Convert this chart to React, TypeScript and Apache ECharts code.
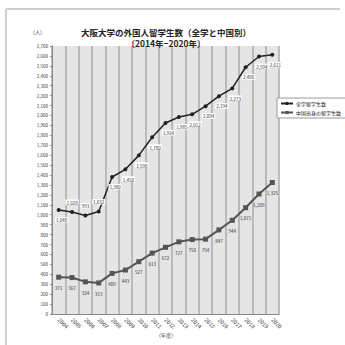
import React, { useEffect, useRef } from "react";
import * as echarts from "echarts";

const years = ["2004","2005","2006","2007","2008","2009","2010","2011","2012","2013","2014","2015","2016","2017","2018","2019","2020"];
const allStudents = [1048, 1028, 993, 1032, 1380, 1458, 1598, 1780, 1924, 1985, 2012, 2094, 2194, 2273, 2486, 2594, 2611];
const chinaStudents = [371, 367, 324, 313, 409, 443, 527, 613, 672, 727, 750, 754, 847, 944, 1071, 1209, 1325];
const seriesNames = ["全学留学生数", "中国出身の留学生数"];
const titleLines = ["大阪大学の外国人留学生数（全学と中国別）", "〔2014年−2020年〕"];

const FONT = "'Noto Sans CJK JP', 'Noto Sans', sans-serif";
const fmt = (v: number) => v.toLocaleString("en-US");

export default function App() {
  const ref = useRef<HTMLDivElement>(null);
  useEffect(() => {
    if (!ref.current) return;
    const chart = echarts.init(ref.current, undefined, { renderer: "svg" });
    const topIdx = new Set([1, 2, 3]);
    chart.setOption({
      animation: false,
      backgroundColor: "#fff",
      textStyle: { fontFamily: FONT },
      graphic: [
        { type: "line", shape: { x1: 6, y1: 9, x2: 340, y2: 9 }, style: { stroke: "#cfcfcf", lineWidth: 2 } },
        { type: "line", shape: { x1: 6, y1: 9, x2: 6, y2: 345 }, style: { stroke: "#cfcfcf", lineWidth: 2 } },
        { type: "text", left: 30, top: 29, style: { text: "（人）", fontSize: 5, fill: "#333", fontFamily: FONT } },
        { type: "text", left: 156, top: 332, style: { text: "（年度）", fontSize: 5, fill: "#333", fontFamily: FONT } },
      ],
      title: {
        text: titleLines[0] + "\n" + titleLines[1],
        left: 161,
        top: 21,
        textAlign: "center",
        textStyle: { fontSize: 8.5, fontWeight: "bold", color: "#222", fontFamily: FONT, lineHeight: 11 },
      },
      legend: {
        orient: "vertical",
        left: 277,
        top: 98,
        itemWidth: 12,
        itemHeight: 4,
        itemGap: 4,
        padding: [3, 30, 3, 3],
        borderColor: "#999",
        borderWidth: 1,
        backgroundColor: "#fff",
        textStyle: { fontSize: 5, color: "#222", fontFamily: FONT, padding: [0, 0, 0, -2] },
        data: seriesNames,
      },
      grid: { left: 52, right: 66, top: 46, bottom: 31, show: true, backgroundColor: "#e5e5e5", borderWidth: 0 },
      xAxis: {
        type: "category",
        data: years,
        boundaryGap: true,
        axisLine: { show: true, lineStyle: { color: "#888", width: 1 } },
        axisTick: { show: false },
        splitLine: { show: true, interval: 0, lineStyle: { color: "#aaa", width: 1.5 } },
        axisLabel: { rotate: -45, fontSize: 5.5, color: "#333", margin: 5, interval: 0, fontFamily: FONT },
      },
      yAxis: {
        type: "value",
        min: 0,
        max: 2700,
        interval: 100,
        axisLine: { show: true, lineStyle: { color: "#888", width: 1 } },
        axisTick: { show: true, length: 2, lineStyle: { color: "#888" } },
        splitLine: { show: false },
        axisLabel: { fontSize: 4.5, color: "#333", margin: 4, formatter: (v: number) => fmt(v), fontFamily: FONT },
      },
      series: [
        {
          name: seriesNames[0],
          type: "line",
          data: allStudents.map((v, i) => ({
            value: v,
            label: topIdx.has(i) ? { position: "top", offset: [0, 0] } : undefined,
          })),
          symbol: "circle",
          symbolSize: 4,
          lineStyle: { color: "#222", width: 1.5 },
          itemStyle: { color: "#222" },
          label: {
            show: true,
            position: "bottom",
            offset: [3, 0],
            fontSize: 4.5,
            color: "#333",
            backgroundColor: "#fff",
            padding: [1, 1, 0, 1],
            formatter: (p: any) => fmt(p.value),
            fontFamily: FONT,
          },
          z: 3,
        },
        {
          name: seriesNames[1],
          type: "line",
          data: chinaStudents,
          symbol: "rect",
          symbolSize: 5,
          lineStyle: { color: "#555", width: 2 },
          itemStyle: { color: "#555" },
          label: {
            show: true,
            position: "bottom",
            offset: [0, 1],
            fontSize: 4.5,
            color: "#333",
            formatter: (p: any) => fmt(p.value),
            fontFamily: FONT,
          },
          z: 2,
        },
      ],
    });
    return () => chart.dispose();
  }, []);
  return <div ref={ref} style={{ position: "fixed", left: 0, top: 0, width: 345, height: 345 }} />;
}
